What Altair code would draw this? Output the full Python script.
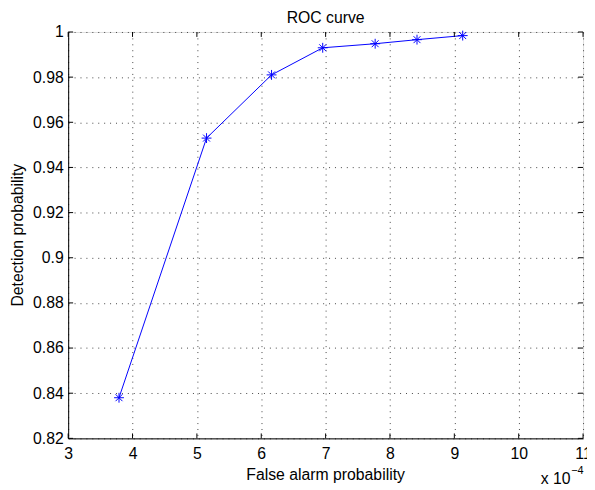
import altair as alt
import pandas as pd

# Data (x in units of 1e-4)
false_alarm = [3.79, 5.15, 6.16, 6.955, 7.77, 8.42, 9.13]
detection = [0.838, 0.953, 0.981, 0.993, 0.9948, 0.9966, 0.9984]

x_ticks = [3, 4, 5, 6, 7, 8, 9, 10, 11]
y_ticks = [0.82, 0.84, 0.86, 0.88, 0.90, 0.92, 0.94, 0.96, 0.98, 1.00]

W, H = 522, 412
FONT = "Liberation Sans"
FS = 16

df = pd.DataFrame({"x": false_alarm, "y": detection})
xt = pd.DataFrame({"x": x_ticks})
yt = pd.DataFrame({"y": y_ticks})

xscale = alt.Scale(domain=[3, 11], nice=False, zero=False)
yscale = alt.Scale(domain=[0.82, 1.0], nice=False, zero=False)

xaxis = alt.Axis(values=x_ticks, format="~g", title=None, grid=True,
                 gridDash=[1, 5], gridColor="#444", gridWidth=1,
                 ticks=False, labelPadding=7, labelFont=FONT, labelFontSize=FS,
                 labelColor="black", domainColor="black", labelFlush=False)
yaxis = alt.Axis(values=y_ticks, format="~g", title=None, grid=True,
                 gridDash=[1, 5], gridColor="#444", gridWidth=1,
                 ticks=False, labelPadding=5, labelFont=FONT, labelFontSize=FS,
                 labelColor="black", domainColor="black", labelFlush=False)

base_line = alt.Chart(df).mark_line(color="#0000FF", strokeWidth=1).encode(
    x=alt.X("x:Q", scale=xscale, axis=xaxis),
    y=alt.Y("y:Q", scale=yscale, axis=yaxis),
)

star = "M-1,0L1,0M0,-1L0,1M-0.7,-0.7L0.7,0.7M-0.7,0.7L0.7,-0.7"
points = alt.Chart(df).mark_point(shape=star, size=100, filled=False,
                                  color="#0000FF", strokeWidth=1, opacity=1).encode(
    x="x:Q", y="y:Q")

# inward ticks on all four sides
xt_bottom = alt.Chart(xt).mark_rule(color="black", strokeWidth=1).encode(
    x="x:Q", y=alt.value(H), y2=alt.value(H - 5))
xt_top = alt.Chart(xt).mark_rule(color="black", strokeWidth=1).encode(
    x="x:Q", y=alt.value(0), y2=alt.value(5))
yt_left = alt.Chart(yt).mark_rule(color="black", strokeWidth=1).encode(
    y="y:Q", x=alt.value(0), x2=alt.value(5))
yt_right = alt.Chart(yt).mark_rule(color="black", strokeWidth=1).encode(
    y="y:Q", x=alt.value(W), x2=alt.value(W - 5))

def label(text, x, y, size=FS, angle=0, align="center", baseline="middle"):
    return alt.Chart(pd.DataFrame({"t": [text]})).mark_text(
        font=FONT, fontSize=size, color="black", angle=angle,
        align=align, baseline=baseline).encode(
        text="t:N", x=alt.value(x), y=alt.value(y))

title = label("ROC curve", W / 2, -9, baseline="alphabetic")
xtitle = label("False alarm probability", W / 2, H + 37)
ytitle = label("Detection probability", -51, H / 2, angle=270)
xmul = label("x 10", 479, H + 41, align="left")
xexp = label("\u22124", 510, H + 33, size=11, align="left")

chart = alt.layer(
    base_line, points, xt_bottom, xt_top, yt_left, yt_right,
    title, xtitle, ytitle, xmul, xexp
).properties(
    width=W, height=H,
    autosize=alt.AutoSizeParams(type="none"),
    padding={"left": 61, "top": 21, "right": 4, "bottom": 47},
).configure_view(stroke="black", strokeWidth=1).configure(background="white")

chart.save("out.html", embed_options={"renderer": "svg", "actions": False})
